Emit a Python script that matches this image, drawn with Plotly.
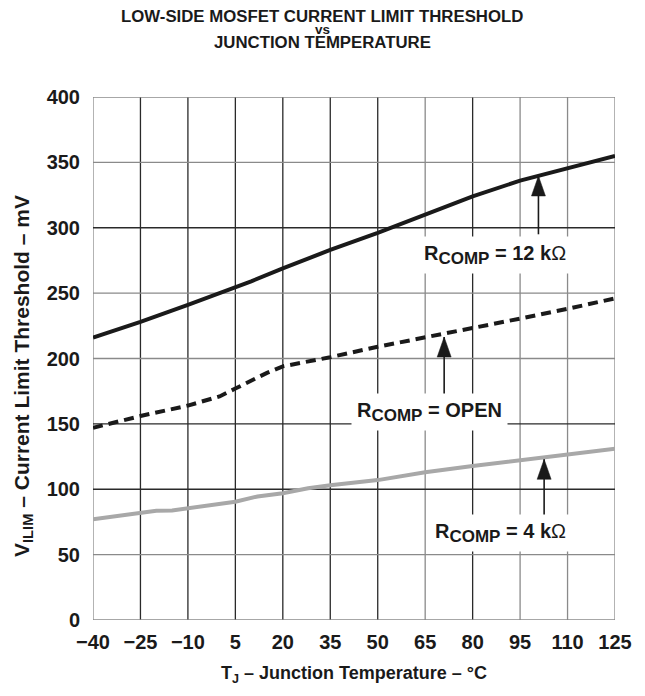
import plotly.graph_objects as go

# ---- data ----
t_12k = [-40, -25, -10, 5, 10, 20, 35, 50, 65, 70, 80, 95, 110, 125]
v_12k = [216, 228, 241, 254, 259, 269, 283, 296, 310, 315, 324, 336, 345.5, 355]

t_open = [-40, -25, -10, 0, 5, 10, 15, 20, 35, 50, 65, 80, 95, 110, 125]
v_open = [147, 156, 164, 171, 177, 183, 189, 194, 201, 209, 216, 223, 230.5, 238, 246]

t_4k = [-40, -25, -20, -15, -10, 5, 12, 20, 28, 35, 50, 65, 80, 95, 110, 125]
v_4k = [77, 81.6, 83.5, 83.8, 85.4, 90.5, 94.5, 97, 100.7, 103, 107, 113, 117.8, 122.4, 126.7, 131]

x_ticks = [-40, -25, -10, 5, 20, 35, 50, 65, 80, 95, 110, 125]
x_tick_text = ["\u221240", "\u221225", "\u221210", "5", "20", "35", "50", "65", "80", "95", "110", "125"]
y_ticks = [0, 50, 100, 150, 200, 250, 300, 350, 400]

# labels and arrows (data coordinates)
label_text = ["R<sub>COMP</sub> = 12 k", "R<sub>COMP</sub> = OPEN", "R<sub>COMP</sub> = 4 k"]
label_omega = [True, False, True]
label_x = [87, 66.4, 88.9]
label_y = [279, 159, 66.5]
arrow_x = [100.8, 71, 102.6]
arrow_tail = [295, 171, 79]
arrow_tip = [339.6, 216.4, 122.9]

# ---- styles ----
BLACK = "#1a1a1a"
GRID_DARK = "#2a2a2a"
GRID_GRAY = "#8a8a8a"
vgrid_colors = [GRID_GRAY, GRID_DARK, GRID_DARK, GRID_DARK, GRID_DARK, GRID_DARK, GRID_DARK,
                GRID_GRAY, GRID_DARK, GRID_GRAY, GRID_GRAY, GRID_GRAY]
hgrid_colors = [GRID_GRAY, GRID_GRAY, GRID_DARK, GRID_DARK, GRID_GRAY, GRID_GRAY, GRID_DARK,
                GRID_GRAY, GRID_GRAY]
FONT = "Liberation Sans, Arial, sans-serif"

# page is offset by the browser's 8px body margin
W, H = 637, 688
ML, MT, MR, MB = 85, 89, 30, 76
PLOT_W = W - ML - MR
PLOT_H = H - MT - MB


def px_to_paper_x(px):
    return (px - 8 - ML) / PLOT_W


def py_to_paper_y(py):
    return (MT + PLOT_H - (py - 8)) / PLOT_H


fig = go.Figure()
fig.add_trace(go.Scatter(x=t_4k, y=v_4k, mode="lines",
                         line=dict(color="#a8a8a8", width=4), hoverinfo="skip"))
fig.add_trace(go.Scatter(x=t_open, y=v_open, mode="lines",
                         line=dict(color=BLACK, width=4, dash="10px,6px"), hoverinfo="skip"))
fig.add_trace(go.Scatter(x=t_12k, y=v_12k, mode="lines",
                         line=dict(color=BLACK, width=4), hoverinfo="skip"))

shapes = []
for xv, c in zip(x_ticks, vgrid_colors):
    shapes.append(dict(type="line", xref="x", yref="y domain", x0=xv, x1=xv, y0=0, y1=1,
                       line=dict(color=c, width=1.3), layer="below"))
for yv, c in zip(y_ticks, hgrid_colors):
    shapes.append(dict(type="line", xref="x domain", yref="y", x0=0, x1=1, y0=yv, y1=yv,
                       line=dict(color=c, width=1.3), layer="below"))

annotations = []
for txt, om, lx, ly in zip(label_text, label_omega, label_x, label_y):
    full = "<b>" + txt.replace("<sub>COMP</sub>", "<sub><span style='font-size:17px'>COMP</span></sub>") + "</b>"
    if om:
        full += "\u03a9"
    annotations.append(dict(x=lx, y=ly, xref="x", yref="y", text=full, showarrow=False,
                            font=dict(family=FONT, size=20, color=BLACK),
                            bgcolor="white", borderpad=5))
for ax_, tl, tp in zip(arrow_x, arrow_tail, arrow_tip):
    shapes.append(dict(type="line", xref="x", yref="y", x0=ax_, x1=ax_, y0=tl, y1=tp,
                       line=dict(color=BLACK, width=1.6)))
    shapes.append(dict(type="path", xref="x", yref="y", xsizemode="pixel", ysizemode="pixel",
                       xanchor=ax_, yanchor=tp, path="M0,0 L-7,-20 L7,-20 Z",
                       fillcolor=BLACK, line=dict(color=BLACK, width=0.5)))

title_lines = ["LOW-SIDE MOSFET CURRENT LIMIT THRESHOLD", "vs", "JUNCTION TEMPERATURE"]
title_py = [16.5, 29.5, 42.5]        # page pixel centres
title_size = [16.8, 13.5, 16.8]
for tl, ty, ts in zip(title_lines, title_py, title_size):
    annotations.append(dict(x=px_to_paper_x(322), y=py_to_paper_y(ty),
                            xref="paper", yref="paper", yanchor="middle", xanchor="center",
                            text="<b>" + tl + "</b>", showarrow=False,
                            font=dict(family=FONT, size=ts, color=BLACK)))

# y axis title
annotations.append(dict(x=px_to_paper_x(23), y=py_to_paper_y(376), xref="paper", yref="paper",
                        xanchor="center", yanchor="middle", textangle=-90, showarrow=False,
                        text="<b>V<sub>ILIM</sub> \u2013 Current Limit Threshold \u2013 mV</b>",
                        font=dict(size=21, family=FONT, color=BLACK)))

fig.update_layout(
    width=W, height=H,
    margin=dict(l=ML, r=MR, t=MT, b=MB),
    paper_bgcolor="white", plot_bgcolor="white",
    showlegend=False,
    shapes=shapes, annotations=annotations,
    font=dict(family=FONT, color=BLACK),
    xaxis=dict(range=[-40, 125], tickvals=x_ticks, ticktext=["<b>" + s + "</b>" for s in x_tick_text],
               showgrid=False, zeroline=False, showline=False, ticks="",
               tickfont=dict(size=20, family=FONT, color=BLACK), ticklabelstandoff=8,
               title=dict(text="<b>T<sub>J</sub> \u2013 Junction Temperature \u2013 \u00b0C</b>",
                          font=dict(size=18, family=FONT, color=BLACK), standoff=14)),
    yaxis=dict(range=[0, 400], tickvals=y_ticks, ticktext=["<b>%d</b>" % v for v in y_ticks],
               showgrid=False, zeroline=False, showline=False, ticks="",
               tickfont=dict(size=20, family=FONT, color=BLACK), ticklabelstandoff=12),
)

fig.write_html("out.html")
